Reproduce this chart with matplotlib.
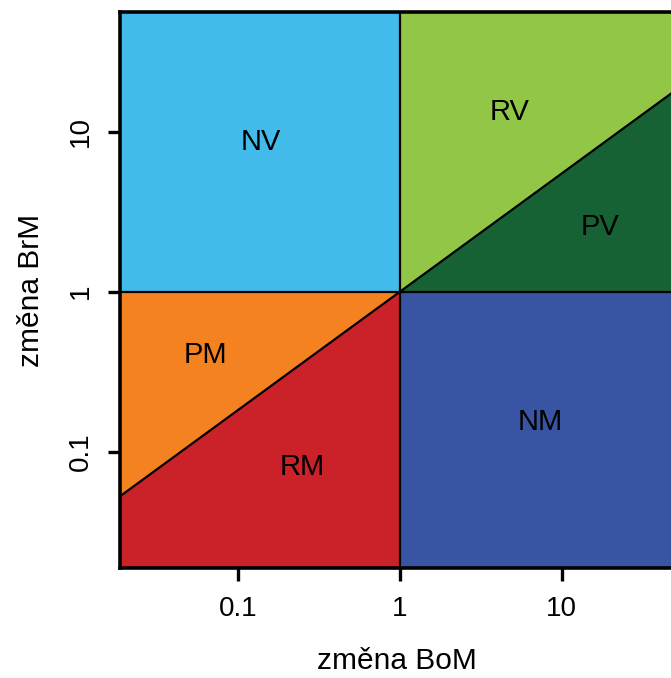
import matplotlib
matplotlib.use("Agg")
import matplotlib.pyplot as plt
import numpy as np

plt.rcParams['font.family'] = ['Liberation Sans', 'DejaVu Sans']

# axis ranges (data units)
x_range = [0.0185, 49.0]
y_range = [0.01875, 56.0]
slope = 0.738  # log-log slope of the diagonal boundaries through (1,1)

region_names = ["NV", "RV", "PV", "PM", "RM", "NM"]
region_colors = ["#42BBEA", "#92C647", "#176235", "#F58220", "#CB2229", "#3A54A4"]
label_x = [0.137, 4.8, 17.2, 0.0624, 0.25, 7.4]
label_y = [8.66, 13.3, 2.55, 0.404, 0.0806, 0.154]

tick_vals = [0.1, 1, 10]
tick_labels = ["0.1", "1", "10"]

fig = plt.figure(figsize=(6.71, 6.78), dpi=100)
ax = fig.add_axes([120/671, (678-568)/678, 1 - 120/671 + 0.003, (568-12)/678])
ax.set_xscale('log')
ax.set_yscale('log')
x0, x1 = x_range
y0, y1 = y_range

def diag(x):
    return x ** slope

# polygons
polys = {
    "NV": [(x0, 1), (1, 1), (1, y1), (x0, y1)],
    "RV": [(1, 1), (x1, diag(x1)), (x1, y1), (1, y1)],
    "PV": [(1, 1), (x1, 1), (x1, diag(x1))],
    "PM": [(x0, diag(x0)), (1, 1), (x0, 1)],
    "RM": [(x0, y0), (1, y0), (1, 1), (x0, diag(x0))],
    "NM": [(1, y0), (x1, y0), (x1, 1), (1, 1)],
}
for name, col in zip(region_names, region_colors):
    pts = polys[name]
    ax.fill([p[0] for p in pts], [p[1] for p in pts], color=col, lw=0, zorder=1)

lw = 1.6
ax.plot([1, 1], [y0, y1], color='black', lw=lw, zorder=2)
ax.plot([x0, x1], [1, 1], color='black', lw=lw, zorder=2)
ax.plot([x0, 1], [diag(x0), 1], color='black', lw=lw, zorder=2)
ax.plot([1, x1], [1, diag(x1)], color='black', lw=lw, zorder=2)

for name, lx, ly in zip(region_names, label_x, label_y):
    ax.text(lx, ly, name, ha='center', va='center', fontsize=21, zorder=3)

ax.set_xlim(x0, x1)
ax.set_ylim(y0, y1)
ax.set_xticks(tick_vals)
ax.set_xticklabels(tick_labels)
ax.set_yticks(tick_vals)
ax.set_yticklabels(tick_labels, rotation=90, va='center')
ax.minorticks_off()
ax.tick_params(axis='both', which='major', length=9, width=2.4, labelsize=20, pad=11)
ax.tick_params(axis='y', pad=10)
for s in ['left', 'bottom', 'top']:
    ax.spines[s].set_linewidth(2.6)
ax.spines['right'].set_visible(False)

ax.set_xlabel("změna BoM", fontsize=21.5, labelpad=18)
ax.set_ylabel("změna BrM", fontsize=21.5, labelpad=16)

fig.savefig("out.png", dpi=100)
